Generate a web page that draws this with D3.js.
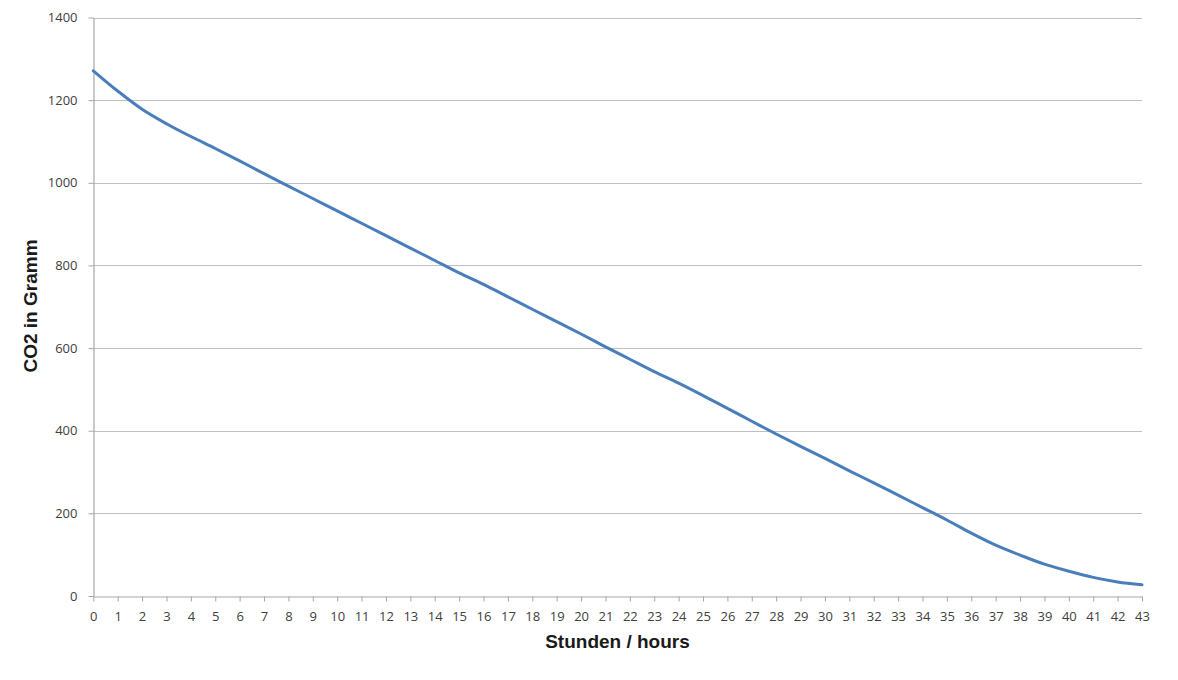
<!DOCTYPE html>
<html>
<head>
<meta charset="utf-8">
<script src="https://cdn.jsdelivr.net/npm/d3@7/dist/d3.min.js"></script>
<style>
  html, body { margin: 0; padding: 0; background: #fff; }
  svg { display: block; }
</style>
</head>
<body>
<svg id="chart" width="1178" height="680"></svg>
<script>
// ---- data ----
const hours = d3.range(0, 44);
const co2 = [1271, 1222, 1178, 1143, 1112, 1083, 1053, 1022, 992, 962,
             932, 902, 872, 842, 812, 782, 754, 724, 694, 664,
             634, 603, 573, 543, 515, 485, 454, 423, 392, 362,
             333, 303, 274, 244, 214, 184, 152, 123, 99, 77,
             60, 45, 34, 27];
const yTicks = [0, 200, 400, 600, 800, 1000, 1200, 1400];
const xTitle = "Stunden / hours";
const yTitle = "CO2 in Gramm";

// ---- layout ----
const svg = d3.select("#chart");
const plotLeft = 93.3, plotRight = 1142, plotTop = 17.5, plotBottom = 596;

const x = d3.scaleLinear().domain([0, 43]).range([plotLeft, plotRight]);
const y = d3.scaleLinear().domain([0, 1400]).range([plotBottom, plotTop]);

// gridlines
svg.append("g")
  .selectAll("line")
  .data(yTicks.filter(d => d > 0))
  .join("line")
  .attr("x1", plotLeft).attr("x2", plotRight)
  .attr("y1", d => Math.round(y(d)) + 0.5).attr("y2", d => Math.round(y(d)) + 0.5)
  .attr("stroke", "#bfbfbf").attr("stroke-width", 1);

// y axis
const yAxis = svg.append("g")
  .attr("transform", `translate(${Math.round(plotLeft) + 0.5},0)`)
  .call(d3.axisLeft(y).tickValues(yTicks).tickSize(5).tickSizeOuter(0).tickPadding(11).tickFormat(d3.format("d")));

// x axis
const xAxis = svg.append("g")
  .attr("transform", `translate(0,${Math.round(plotBottom) + 0.5})`)
  .call(d3.axisBottom(x).tickValues(hours).tickSize(5).tickSizeOuter(0).tickPadding(10.5).tickFormat(d3.format("d")));

[yAxis, xAxis].forEach(g => {
  g.select(".domain").attr("stroke", "#a6a6a6").attr("stroke-width", 1.2);
  g.selectAll(".tick line").attr("stroke", "#a6a6a6");
  g.selectAll(".tick text")
    .attr("fill", "#404040")
    .style("font-family", "'Open Sans', sans-serif")
    .style("font-size", "13px");
});

// line
const line = d3.line()
  .x((d, i) => x(hours[i]))
  .y(d => y(d))
  .curve(d3.curveCatmullRom.alpha(0.5));

svg.append("path")
  .datum(co2)
  .attr("d", line)
  .attr("fill", "none")
  .attr("stroke", "#4a7ebb")
  .attr("stroke-width", 3)
  .attr("stroke-linejoin", "round")
  .attr("stroke-linecap", "round");

// titles
svg.append("text")
  .attr("x", 617.5).attr("y", 648)
  .attr("text-anchor", "middle")
  .style("font-family", "'Liberation Sans', Arial, sans-serif")
  .style("font-weight", "bold")
  .style("font-size", "19px")
  .attr("fill", "#1a1a1a")
  .text(xTitle);

svg.append("text")
  .attr("transform", "translate(36.5,306) rotate(-90)")
  .attr("text-anchor", "middle")
  .style("font-family", "'Liberation Sans', Arial, sans-serif")
  .style("font-weight", "bold")
  .style("font-size", "19px")
  .attr("fill", "#1a1a1a")
  .text(yTitle);
</script>
</body>
</html>
